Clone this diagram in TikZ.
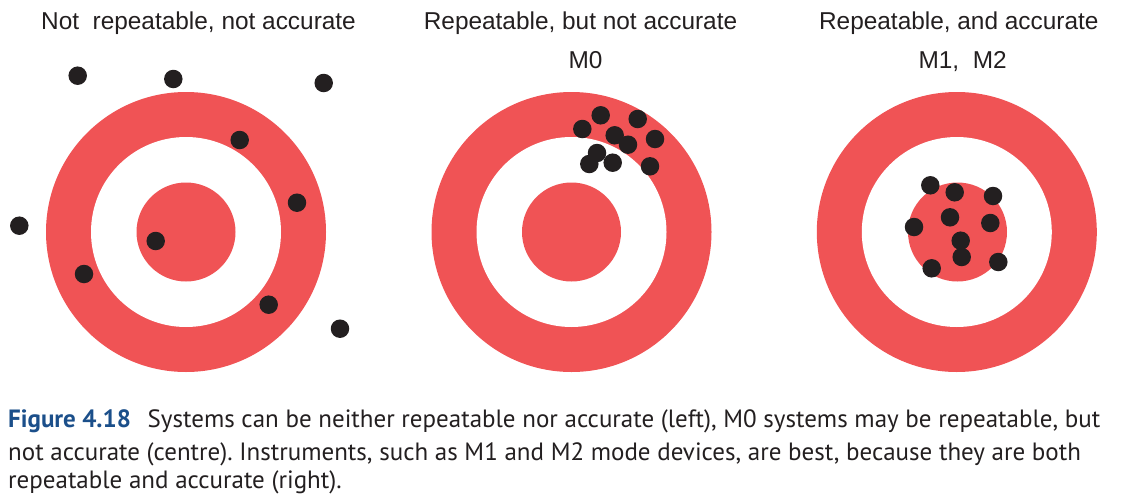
\documentclass[tikz,border=0pt]{standalone}
\usepackage{fontspec}
\setmainfont{Liberation Sans}
\newfontfamily\capfont{PT Sans}
\definecolor{tgred}{RGB}{240,83,85}
\definecolor{dotblk}{RGB}{35,31,32}
\definecolor{figblue}{RGB}{27,79,138}
\frenchspacing
\tikzset{
  outerring/.style={circle,fill=tgred,inner sep=0pt,minimum size=280pt},
  whitering/.style={circle,fill=white,inner sep=0pt,minimum size=190pt},
  bull/.style={circle,fill=tgred,inner sep=0pt,minimum size=99pt},
  shot/.style={circle,fill=dotblk,inner sep=0pt,minimum size=18.5pt},
  title/.style={anchor=base,inner sep=0pt,font=\fontsize{24.4}{28}\selectfont,text=dotblk},
  capline/.style={anchor=base west,inner sep=0pt,font=\capfont\fontsize{25}{30}\selectfont,text=dotblk}
}
\begin{document}
\begin{tikzpicture}[x=1pt,y=-1pt]
\useasboundingbox (0,0) rectangle (1122,498);
% titles
\node[title] (ttl1) at (198.5,29.3) {Not\ \ repeatable, not accurate};
\node[title] (ttl2) at (580.5,29.3) {Repeatable, but not accurate};
\node[title] (sub2) at (585.5,68.3) {M0};
\node[title] (ttl3) at (958.8,29.3) {Repeatable, and accurate};
\node[title] (sub3) at (962.6,68.3) {M1,\ \ M2};
% target 1
\node[outerring] (o1) at (186,232) {};
\node[whitering] (w1) at (186,232) {};
\node[bull] (b1) at (186,232) {};
% target 2
\node[outerring] (o2) at (571.5,232) {};
\node[whitering] (w2) at (571.5,232) {};
\node[bull] (b2) at (571.5,232) {};
% target 3
\node[outerring] (o3) at (956.8,232) {};
\node[whitering] (w3) at (956.8,232) {};
\node[bull] (b3) at (957.5,232) {};
% shots, target 1
\node[shot] (a1) at (77.7,75.7) {};
\node[shot] (a2) at (173.3,79) {};
\node[shot] (a3) at (323.7,83) {};
\node[shot] (a4) at (239.7,140) {};
\node[shot] (a5) at (297,202.7) {};
\node[shot] (a6) at (19.3,225.7) {};
\node[shot] (a7) at (155.7,241) {};
\node[shot] (a8) at (84,274) {};
\node[shot] (a9) at (268.7,304.7) {};
\node[shot] (a10) at (340,328.7) {};
% shots, target 2
\node[shot] (m1) at (600.7,115.3) {};
\node[shot] (m2) at (637.7,119) {};
\node[shot] (m3) at (582.3,129) {};
\node[shot] (m4) at (614.7,135.3) {};
\node[shot] (m5) at (655,139) {};
\node[shot] (m6) at (628,144.7) {};
\node[shot] (m7) at (597,153) {};
\node[shot] (m8) at (589.3,164) {};
\node[shot] (m9) at (612.7,162.7) {};
\node[shot] (m10) at (650,166.3) {};
% shots, target 3
\node[shot] (r1) at (930.3,185.3) {};
\node[shot] (r2) at (954.7,192.3) {};
\node[shot] (r3) at (993,196) {};
\node[shot] (r4) at (950,217.3) {};
\node[shot] (r5) at (914,227) {};
\node[shot] (r6) at (990.3,223) {};
\node[shot] (r7) at (960.7,240.7) {};
\node[shot] (r8) at (961.7,257) {};
\node[shot] (r9) at (931.7,268.3) {};
\node[shot] (r10) at (998.3,262) {};
% caption
\node[capline] (cap1) at (8,427.5) {{\color{figblue}\bfseries Figure 4.18}\hspace{16.7pt}Systems can be neither repeatable nor accurate (left), M0 systems may be repeatable, but};
\node[capline] (cap2) at (8,460.5) {not accurate (centre). Instruments, such as M1 and M2 mode devices, are best, because they are both};
\node[capline] (cap3) at (8,488) {repeatable and accurate (right).};
\end{tikzpicture}
\end{document}
